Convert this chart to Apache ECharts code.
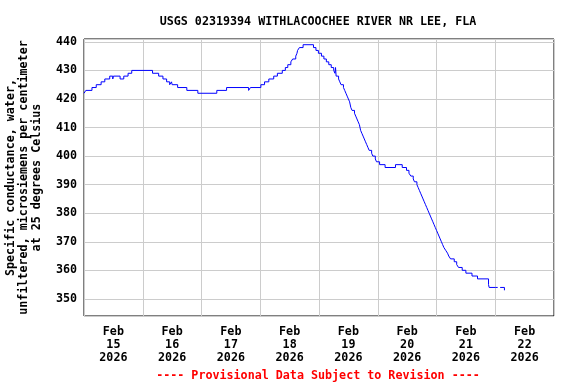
<!DOCTYPE html>
<html>
<head>
<meta charset="utf-8">
<script src="https://cdn.jsdelivr.net/npm/echarts@6/dist/echarts.min.js"></script>
<style>html,body{margin:0;padding:0;background:#fff;}#c{width:576px;height:384px;}</style>
</head>
<body>
<div id="c"></div>
<script>
const titleText = 'USGS 02319394 WITHLACOOCHEE RIVER NR LEE, FLA';
const footerText = '---- Provisional Data Subject to Revision ----';
const yAxisTitle = 'Specific conductance, water,\nunfiltered, microsiemens per centimeter\nat 25 degrees Celsius';
const startTime = '2026-02-15 00:00';
const endTime = '2026-02-23 00:00';
const dayLabels = ['Feb\n15\n2026','Feb\n16\n2026','Feb\n17\n2026','Feb\n18\n2026','Feb\n19\n2026','Feb\n20\n2026','Feb\n21\n2026','Feb\n22\n2026'];
const yTicks = [350, 360, 370, 380, 390, 400, 410, 420, 430, 440];

const times = [
'2026-02-15 00:00','2026-02-15 00:45','2026-02-15 03:15','2026-02-15 05:00','2026-02-15 07:00','2026-02-15 08:30','2026-02-15 10:30','2026-02-15 11:45','2026-02-15 12:00','2026-02-15 14:45','2026-02-15 16:15','2026-02-15 18:00','2026-02-15 19:30',
'2026-02-16 04:00','2026-02-16 06:30','2026-02-16 08:15','2026-02-16 09:45','2026-02-16 11:00','2026-02-16 11:45','2026-02-16 12:00','2026-02-16 14:15','2026-02-16 18:00','2026-02-16 22:30',
'2026-02-17 06:15','2026-02-17 10:15','2026-02-17 19:15','2026-02-17 20:00',
'2026-02-18 00:15','2026-02-18 01:45','2026-02-18 03:30','2026-02-18 05:30','2026-02-18 07:00','2026-02-18 09:00','2026-02-18 10:15','2026-02-18 11:15','2026-02-18 12:30','2026-02-18 13:15','2026-02-18 14:30','2026-02-18 15:00','2026-02-18 15:15','2026-02-18 16:00','2026-02-18 17:30','2026-02-18 21:45','2026-02-18 22:45','2026-02-18 23:45',
'2026-02-19 01:00','2026-02-19 02:00','2026-02-19 03:00','2026-02-19 04:00','2026-02-19 05:00','2026-02-19 06:00','2026-02-19 06:30','2026-02-19 06:45','2026-02-19 07:00','2026-02-19 08:00','2026-02-19 08:30','2026-02-19 09:00','2026-02-19 10:00','2026-02-19 10:30','2026-02-19 11:00','2026-02-19 11:30','2026-02-19 12:00','2026-02-19 12:30','2026-02-19 13:00','2026-02-19 13:30','2026-02-19 14:30','2026-02-19 15:00','2026-02-19 15:30','2026-02-19 16:00','2026-02-19 16:30','2026-02-19 17:00','2026-02-19 17:30','2026-02-19 18:00','2026-02-19 18:30','2026-02-19 19:00','2026-02-19 19:30','2026-02-19 20:00','2026-02-19 20:30','2026-02-19 21:30','2026-02-19 22:00','2026-02-19 23:00','2026-02-19 23:30',
'2026-02-20 00:45','2026-02-20 03:00','2026-02-20 07:15','2026-02-20 10:00','2026-02-20 11:45','2026-02-20 12:45','2026-02-20 13:30','2026-02-20 14:30','2026-02-20 15:00','2026-02-20 16:00','2026-02-20 16:30','2026-02-20 17:00','2026-02-20 17:30','2026-02-20 18:00','2026-02-20 18:30','2026-02-20 19:00','2026-02-20 19:30','2026-02-20 20:00','2026-02-20 20:30','2026-02-20 21:00','2026-02-20 21:30','2026-02-20 22:00','2026-02-20 22:30','2026-02-20 23:00','2026-02-20 23:30',
'2026-02-21 00:00','2026-02-21 00:30','2026-02-21 01:00','2026-02-21 01:30','2026-02-21 02:00','2026-02-21 02:30','2026-02-21 03:00','2026-02-21 03:45','2026-02-21 04:30','2026-02-21 05:00','2026-02-21 05:45','2026-02-21 07:15','2026-02-21 08:15','2026-02-21 09:00','2026-02-21 10:30','2026-02-21 12:00','2026-02-21 14:30','2026-02-21 16:45','2026-02-21 21:15','2026-02-21 21:30',
'2026-02-22 00:00','2026-02-22 01:00','2026-02-22 02:00','2026-02-22 03:45','2026-02-22 04:00'
];
const values = [
422,423,424,425,426,427,428,427,428,427,428,429,430,
429,428,427,426,425,426,425,424,423,422,
423,424,423,424,
425,426,427,428,429,430,431,432,433,434,435,436,437,438,439,438,437,436,
435,434,433,432,431,430,429,431,428,427,426,425,424,423,422,421,420,419,417,416,415,414,413,412,411,409,408,407,406,405,404,403,402,401,400,399,398,
397,396,397,396,395,394,393,392,391,390,389,388,387,386,385,384,383,382,381,380,379,378,377,376,375,
374,373,372,371,370,369,368,367,366,365,364,363,362,361,360,359,358,357,355,354,
354,null,354,353,353
];

function hoursOf(s) {
  const m = s.match(/(\d+)-(\d+)-(\d+) (\d+):(\d+)/);
  return Date.UTC(+m[1], +m[2]-1, +m[3], +m[4], +m[5]) / 3600000;
}
const t0 = hoursOf(startTime);
const tEnd = hoursOf(endTime) - t0;
const seriesData = times.map((t, i) => [hoursOf(t) - t0, values[i]]);

const FONT = '"DejaVu Sans Mono", "Liberation Mono", monospace';
const chart = echarts.init(document.getElementById('c'), null, {renderer: 'canvas'});
chart.setOption({
  animation: false,
  backgroundColor: '#ffffff',
  title: [
    {text: titleText, left: 313, top: 11, textAlign: 'center',
     textStyle: {fontFamily: FONT, fontSize: 11.7, fontWeight: 'bold', color: '#000'}},
    {text: footerText, left: 313, top: 365, textAlign: 'center',
     textStyle: {fontFamily: FONT, fontSize: 11.7, fontWeight: 'bold', color: '#ff0000'}}
  ],
  grid: {left: 84, right: 22, top: 39, bottom: 68, show: true, borderColor: '#000', borderWidth: 1,
         containLabel: false, outerBoundsMode: 'none'},
  xAxis: [
    {type: 'value', min: 0, max: tEnd, interval: 24,
     axisLine: {show: false}, axisTick: {show: false}, axisLabel: {show: false},
     splitLine: {show: true, lineStyle: {color: '#cccccc', width: 1}}},
    {type: 'value', min: 0, max: tEnd, interval: 12, position: 'bottom',
     axisLine: {show: false}, axisTick: {show: false}, splitLine: {show: false},
     axisLabel: {show: true, margin: 9, lineHeight: 13, fontFamily: FONT, fontSize: 11.7, fontWeight: 'bold', color: '#000',
       showMinLabel: false, showMaxLabel: false,
       formatter: function (v) { const k = Math.round(v); return (k % 24 === 12) ? dayLabels[(k - 12) / 24] : ''; }}}
  ],
  yAxis: {
    type: 'value', min: 344, max: 441, splitNumber: 10,
    name: yAxisTitle, nameLocation: 'middle', nameRotate: 90, nameGap: 41,
    nameTextStyle: {fontFamily: FONT, fontSize: 11.7, fontWeight: 'bold', color: '#000', lineHeight: 13, align: 'center'},
    axisLine: {show: false}, axisTick: {show: false},
    axisLabel: {margin: 7, fontFamily: FONT, fontSize: 11.7, fontWeight: 'bold', color: '#000',
      showMinLabel: false, showMaxLabel: false,
      formatter: function (v) { return yTicks.indexOf(Math.round(v)) >= 0 && Math.abs(v - Math.round(v)) < 1e-6 ? String(Math.round(v)) : ''; }},
    splitLine: {show: true, lineStyle: {color: '#cccccc', width: 1}}
  },
  series: [{
    type: 'line', xAxisIndex: 0, step: 'end', showSymbol: false, connectNulls: false,
    lineStyle: {color: '#0000ff', width: 1}, itemStyle: {color: '#0000ff'},
    data: seriesData
  }]
});
</script>
</body>
</html>
